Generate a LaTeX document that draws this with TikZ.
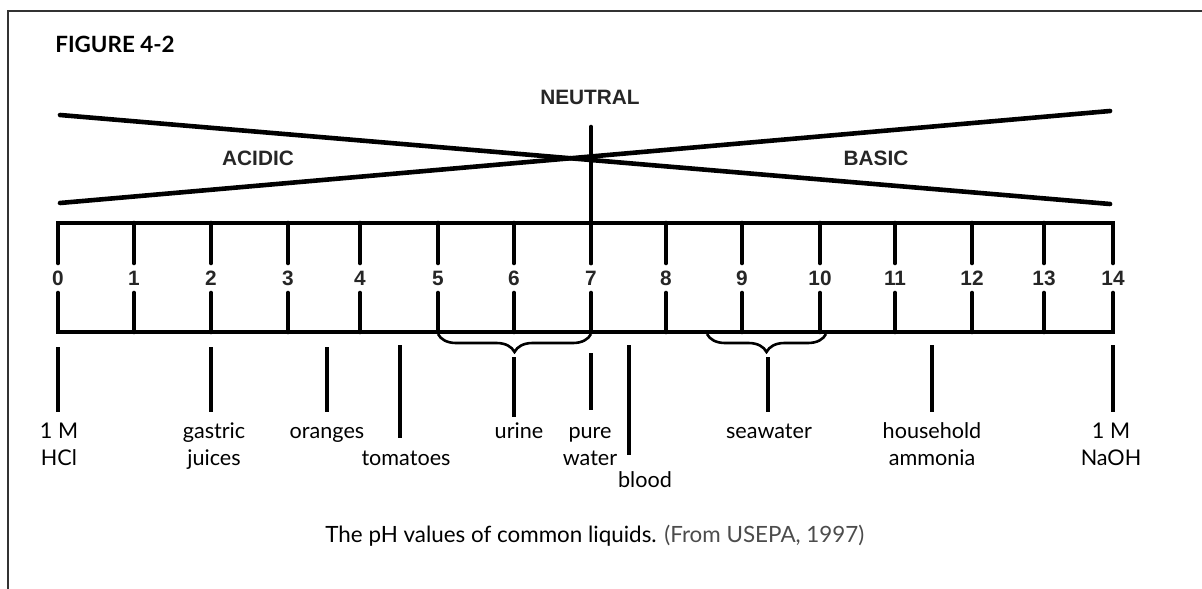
\documentclass[tikz,border=0pt]{standalone}
\usepackage{fontspec}
\setmainfont{Lato}
\newfontfamily\heavyfont{Liberation Sans}
\usetikzlibrary{decorations.pathreplacing}

\begin{document}
\begin{tikzpicture}[
        x=0.5pt, y=-0.5pt,
        every node/.style={inner sep=0pt},
        bar/.style={line width=2.3pt, line cap=round},
        drop/.style={line width=1.8pt},
        curly/.style={line width=1.3pt, decorate, decoration={brace, mirror, amplitude=9pt, aspect=0.5}},
        zone/.style={font=\heavyfont\bfseries\fontsize{10.4}{12}\selectfont, text=black!85},
        liquid/.style={font=\fontsize{10.8}{13.5}\selectfont, align=center, anchor=base},
    ]
        \useasboundingbox (0,0) rectangle (1202,588);
        \draw[line width=0.8pt, black!80] (8,600) -- (8,11) -- (1210,11);
        \node[anchor=base west, font=\bfseries\fontsize{11.2}{13}\selectfont] (title) at (55,53) {FIGURE 4-2};

        \node[zone] (neutral) at (590,97) {NEUTRAL};
        \node[zone] (acidic) at (258,158) {ACIDIC};
        \node[zone] (basic) at (876,158) {BASIC};
        \draw[bar] (60,115) -- (1110,204);
        \draw[bar] (60,203) -- (1110,111);
        \draw[bar] (591,127) -- (591,263);

        \draw[bar] (58,263) -- (58,223) -- (1113,223) -- (1113,263);
        \draw[bar] (58,293) -- (58,332) -- (1113,332) -- (1113,293);
        \foreach \x in {134,211,288,360,438,514,591,666,742,820,895,972,1044} {
            \draw[bar] (\x,223) -- (\x,263);
            \draw[bar] (\x,293) -- (\x,332);
        }
        \foreach \v/\x in {0/58,1/134,2/211,3/288,4/360,5/438,6/514,7/591,8/666,9/742,10/820,11/895,12/972,13/1044,14/1113}
            \node[zone] (t\v) at (\x,278) {\v};

        \draw[curly] (438,334) -- (591,334);
        \draw[curly] (707,334) -- (826,334);

        \foreach \x/\a/\b in {58/347/412, 211/347/412, 327/347/412, 400/345/438, 514/357/417, 591/353/410, 629/345/455, 768/357/412, 932/345/412, 1113/345/412}
            \draw[drop] (\x,\a) -- (\x,\b);

        \node[liquid] (hcl) at (59,465) {1 M\\HCl};
        \node[liquid] (gastric) at (214,465) {gastric\\juices};
        \node[liquid] (oranges) at (327,438) {oranges};
        \node[liquid] (tomatoes) at (406,465) {tomatoes};
        \node[liquid] (urine) at (519,438) {urine};
        \node[liquid] (water) at (590,465) {pure\\water};
        \node[liquid] (blood) at (645,487) {blood};
        \node[liquid] (seawater) at (769,438) {seawater};
        \node[liquid] (ammonia) at (932,465) {household\\ammonia};
        \node[liquid] (naoh) at (1111,465) {1 M\\NaOH};

        \node[anchor=base west, font=\fontsize{11.2}{13}\selectfont] (caption) at (325,542) {The pH values of common liquids. \textcolor{black!70}{(From USEPA, 1997)}};
    \end{tikzpicture}
\end{document}
